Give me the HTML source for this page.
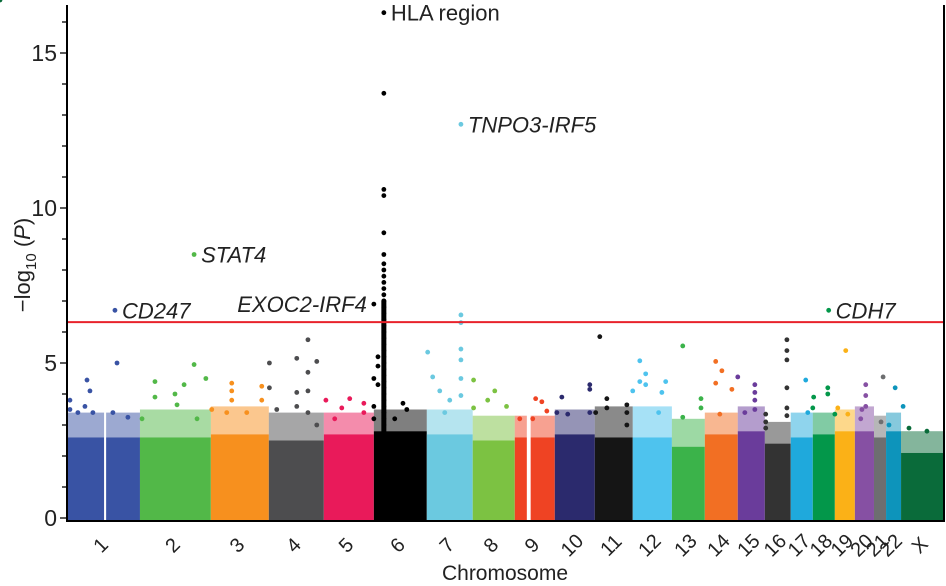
<!DOCTYPE html>
<html><head><meta charset="utf-8"><style>
html,body{margin:0;padding:0;background:#fff;}
svg{display:block;font-family:"Liberation Sans",Arial,sans-serif;}
</style></head><body>
<svg id="chart" width="946" height="586" viewBox="0 0 946 586"></svg>
<script>
const chromNames=["1","2","3","4","5","6","7","8","9","10","11","12","13","14","15","16","17","18","19","20","21","22","X"];
const chromLengths=[248,241,197,187,170,180,156,143,136,136,129,133,112,112,92,88,75,75,68,65,41,51,146];
const chromColors=["#3953a4","#52b848","#f7901e","#4d4d4f","#e91a5a","#000000","#6bc9e0","#7cc242","#ef4323","#2b2a6d","#151515","#4ec3ee","#3bb34a","#f26f23","#6a3c9b","#333333","#1fa9dc","#03974a","#fbb117","#8650a3","#6d6e70","#0d94bb","#0a6b3a"];
const bandHeights=[2.6,2.6,2.7,2.5,2.7,2.8,2.7,2.5,2.6,2.7,2.6,2.6,2.3,2.7,2.8,2.4,2.6,2.7,2.8,2.8,2.6,2.8,2.1];
const fringeHeights=[3.4,3.5,3.6,3.4,3.4,3.5,3.5,3.3,3.3,3.5,3.6,3.6,3.2,3.4,3.6,3.1,3.4,3.4,3.5,3.6,3.3,3.4,2.8];
const gapChrom=[0,8];
const gapStart=[126,41];
const gapEnd=[133,54];
const columnChrom=[5];
const columnPos=[34];
const columnTop=[7.0];
const ptChrom=[0,0,0,0,0,0,0,0,0,0,0,
1,1,1,1,1,1,1,1,1,1,
2,2,2,2,2,2,2,2,
3,3,3,3,3,3,3,3,3,3,3,3,
4,4,4,4,4,4,
5,5,5,5,5,5,5,5,5,5,5,5,5,5,5,5,5,5,5,5,5,5,5,5,5,5,5,5,5,5,5,5,5,5,5,5,5,5,5,5,5,5,5,
6,6,6,6,6,6,6,6,6,6,6,6,
7,7,7,7,7,
8,8,8,8,8,
9,9,9,9,9,9,
10,10,10,10,10,10,10,
11,11,11,11,11,11,11,11,
12,12,12,12,
13,13,13,13,13,
14,14,14,14,14,14,
15,15,15,15,15,15,15,15,15,
16,16,
17,17,17,17,17,17,
18,18,18,
19,19,19,19,19,
20,20,
21,21,21,
22,22,22];
const ptPos=[10,68,78,61,170,156,207,88,37,10,163,
51,51,119,126,150,184,224,194,7,184,
71,71,71,173,173,122,3,54,
2,2,27,95,95,133,133,133,133,163,163,95,
7,88,136,61,37,136,
14,14,14,0,0,0,34,34,34,34,34,34,34,34,34,34,34,34,34,34,34,34,34,34,34,34,34,34,34,34,34,34,34,34,34,34,34,34,34,99,112,71,
0,20,44,78,116,116,116,116,116,116,116,61,
3,3,51,3,115,
75,92,17,61,109,
71,119,119,7,44,119,
24,41,41,109,109,109,3,
17,24,44,44,112,99,0,88,
24,99,99,37,
37,37,37,92,51,
58,58,58,58,58,24,
0,3,3,75,75,75,75,75,75,
3,58,
51,51,51,0,75,54,
3,10,44,
37,37,37,37,20,
24,24,
31,31,10,
58,27,88];
const ptVal=[3.8,4.45,4.1,3.6,5.0,3.4,3.25,3.4,3.4,3.5,6.7,
4.4,3.9,4.0,3.65,4.3,4.95,4.5,3.2,3.2,8.5,
4.35,4.1,3.8,4.25,3.8,3.4,3.5,3.4,
5.0,4.2,3.5,5.15,4.05,5.75,4.7,4.1,3.4,5.05,3.0,3.6,
3.8,3.85,3.7,3.55,3.2,3.4,
5.2,4.9,4.3,6.9,3.6,3.2,16.3,13.7,10.6,10.4,9.2,8.5,8.2,8.0,7.8,7.6,7.4,7.2,7.0,6.8,6.6,6.4,6.2,6.0,5.8,5.6,5.4,5.2,5.0,4.8,4.6,4.4,4.2,4.0,3.8,3.6,3.4,3.2,3.0,3.7,3.5,3.2,
4.5,4.55,4.1,3.8,12.7,6.55,6.3,5.45,5.1,4.5,3.95,3.4,
5.35,4.45,3.8,3.55,3.6,
4.1,3.75,3.2,3.2,3.45,
3.85,4.3,4.15,3.4,3.35,3.4,
3.9,3.85,3.55,3.65,3.4,3.0,3.4,
5.85,5.07,4.65,4.3,4.4,4.05,4.1,3.4,
4.4,3.85,3.55,3.25,
5.55,5.05,4.35,4.15,3.35,
4.75,4.3,4.05,3.8,3.5,3.4,
4.55,3.1,2.9,5.75,5.4,5.1,4.2,3.55,3.3,
3.35,3.4,
4.45,4.2,4.0,3.55,3.35,6.7,
3.9,3.55,3.35,
5.4,4.3,3.95,3.6,3.2,
3.5,3.1,
4.55,4.2,3.0,
3.6,2.9,2.8];
const annoText=["HLA region","TNPO3-IRF5","STAT4","CD247","EXOC2-IRF4","CDH7"];
const annoChrom=[5,6,1,0,5,17];
const annoPos=[34,116,184,163,0,54];
const annoVal=[16.3,12.7,8.5,6.7,6.9,6.7];
const annoItalic=[false,true,true,true,true,true];
const annoSide=["right","right","right","right","left","right"];
const yTicks=[0,5,10,15];
const threshold=6.32;

const NS="http://www.w3.org/2000/svg";
const svg=document.getElementById("chart");
const X0=67,X1=944,Y0=518,PXU=31;
const total=chromLengths.reduce((a,b)=>a+b,0);
const offsets=[];let acc=0;for(const l of chromLengths){offsets.push(acc);acc+=l;}
function xScale(c,pos){return X0+(offsets[c]+pos)/total*(X1-X0);}
function yScale(v){return Y0-v*PXU;}
function mk(tag,attrs,parent){const e=document.createElementNS(NS,tag);for(const k in attrs)e.setAttribute(k,attrs[k]);(parent||svg).appendChild(e);return e;}

const bands=mk("g",{});


for(let c=0;c<chromNames.length;c++){
  const x=xScale(c,0),w=xScale(c,chromLengths[c])-x;
  const f=mk("rect",{x:x,y:yScale(fringeHeights[c]),width:w,height:yScale(bandHeights[c])-yScale(fringeHeights[c]),fill:chromColors[c],opacity:0.5},bands);
  
  
  const r=mk("rect",{x:x,y:yScale(bandHeights[c]),width:w,height:Y0-yScale(bandHeights[c])+2,fill:chromColors[c]},bands);
  
  
}
for(let i=0;i<gapChrom.length;i++){
  const c=gapChrom[i];
  const g=mk("rect",{x:xScale(c,gapStart[i]),y:yScale(fringeHeights[c])-2,width:xScale(c,gapEnd[i])-xScale(c,gapStart[i]),height:Y0-yScale(fringeHeights[c])+4,fill:"#fff"},bands);
  
  
}
for(let i=0;i<columnChrom.length;i++){
  const c=columnChrom[i],x=xScale(c,columnPos[i]);
  const col=mk("line",{x1:x,x2:x,y1:yScale(columnTop[i]),y2:Y0,stroke:chromColors[c],"stroke-width":5,"stroke-linecap":"round"});
  
  
}
const pts=mk("g",{});


for(let i=0;i<ptChrom.length;i++){
  const c=ptChrom[i];
  const d=mk("circle",{cx:xScale(c,ptPos[i]),cy:yScale(ptVal[i]),r:2.4,fill:chromColors[c]},pts);
  
  
}
const th=mk("line",{x1:X0,x2:X1,y1:yScale(threshold),y2:yScale(threshold),stroke:"#e8222b","stroke-width":2});


const ya=mk("line",{x1:X0,x2:X0,y1:5,y2:Y0+3,stroke:"#000","stroke-width":2});


const xa=mk("line",{x1:X0-1,x2:X1+1,y1:Y0+3,y2:Y0+3,stroke:"#000","stroke-width":2});


const rb=mk("line",{x1:X1,x2:X1,y1:5,y2:Y0+3,stroke:"#000","stroke-width":2});


for(let v=0;v<=16;v++){
  const t=mk("line",{x1:X0-(v%5===0?7:5),x2:X0,y1:yScale(v),y2:yScale(v),stroke:"#000","stroke-width":1.3});
  
  
}
for(const v of yTicks){
  const t=mk("text",{x:X0-10,y:yScale(v)+8,"text-anchor":"end","font-size":23,fill:"#222"});
  t.textContent=v;
  
  
}
for(let c=0;c<chromNames.length;c++){
  const cx=(xScale(c,0)+xScale(c,chromLengths[c]))/2-3;
  const t=mk("text",{x:cx,y:552,"text-anchor":"middle","font-size":20,fill:"#222",transform:`rotate(-45 ${cx} 545)`});
  t.textContent=chromNames[c];
  
  
}
const xt=mk("text",{x:505,y:580,"text-anchor":"middle","font-size":21,fill:"#222"});
xt.textContent="Chromosome";


const yt=mk("text",{x:0,y:0,"text-anchor":"middle","font-size":22,fill:"#222",transform:"translate(30 265) rotate(-90)"});


yt.innerHTML='−log<tspan font-size="15" dy="6">10</tspan><tspan dy="-6"> (</tspan><tspan font-style="italic">P</tspan>)';
for(let i=0;i<annoText.length;i++){
  const c=annoChrom[i],x=xScale(c,annoPos[i]),y=yScale(annoVal[i]);
  const left=annoSide[i]==="left";
  const t=mk("text",{x:left?x-7:x+7,y:y+8,"text-anchor":left?"end":"start","font-size":22,fill:"#222","font-style":annoItalic[i]?"italic":"normal"});
  t.textContent=annoText[i];
  
  
}
</script>
</body></html>
